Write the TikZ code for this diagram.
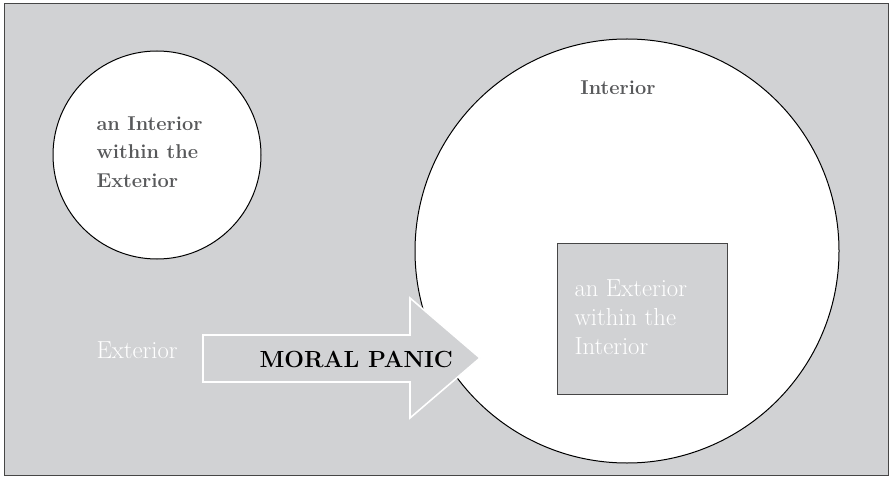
\documentclass[tikz,border=0pt]{standalone}
\usetikzlibrary{positioning}

\definecolor{panelgray}{RGB}{209,210,212}
\definecolor{labelgray}{RGB}{88,89,91}
\definecolor{framegray}{RGB}{70,70,70}

\tikzset{every picture/.style={line width=0.75pt}}

\begin{document}
\begin{tikzpicture}[x=0.75pt,y=0.75pt,yscale=-1,xscale=1]
\useasboundingbox (0,0) rectangle (891,477);

%Shape: Rectangle [id:outer]
\draw [color=framegray, fill=panelgray] (4,4) -- (888,4) -- (888,475) -- (4,475) -- cycle ;

%Shape: Circle [id:smallcircle]
\draw [fill=white] (157,155) circle (104) ;

%Shape: Circle [id:bigcircle]
\draw [fill=white] (627,251) circle (212) ;

%Shape: Square [id:innersquare]
\draw [color=framegray, fill=panelgray] (557,243) -- (727,243) -- (727,394) -- (557,394) -- cycle ;

%Shape: Right Arrow [id:panicarrow]
\draw [color=white, fill=panelgray, line width=1.2pt, line join=miter] (203,335) -- (410,335) -- (410,298) -- (480,358) -- (410,418) -- (410,382) -- (203,382) -- cycle ;

% Text Node
\node (intext) [anchor=west, inner sep=0pt, align=left, text=labelgray, font=\fontsize{15}{21.4}\selectfont\bfseries] at (96,152) {an Interior\\within the\\Exterior};
% Text Node
\node (interior) [inner sep=0pt, text=labelgray, font=\fontsize{15}{18}\selectfont\bfseries] at (618,88) {Interior};
% Text Node
\node (exinint) [anchor=west, inner sep=0pt, align=left, text=white, font=\fontsize{18.5}{21.8}\selectfont] at (574,317) {an Exterior\\within the\\Interior};
% Text Node
\node (exterior) [anchor=west, inner sep=0pt, text=white, font=\fontsize{18.5}{20}\selectfont] at (96,350) {Exterior};
% Text Node
\node (panic) [anchor=west, inner sep=0pt, font=\fontsize{17.5}{20}\selectfont\bfseries] at (259,359) {MORAL PANIC};

\end{tikzpicture}
\end{document}
